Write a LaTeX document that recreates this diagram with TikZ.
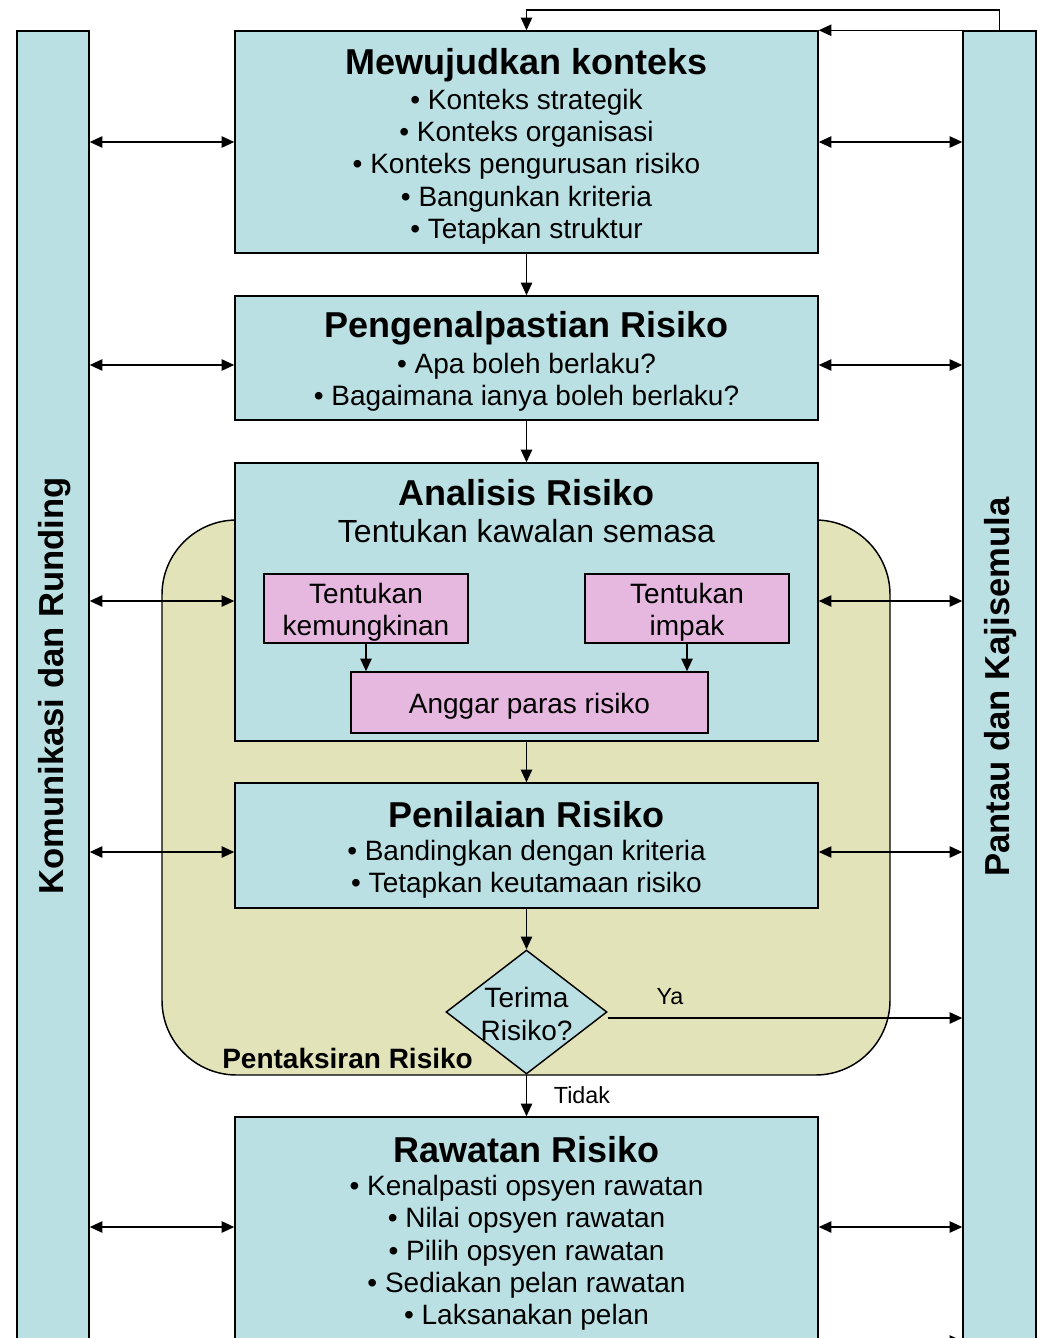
\documentclass[tikz,border=0pt]{standalone}
\usepackage{fontspec}
\setmainfont{Liberation Sans}
\usetikzlibrary{arrows.meta,shapes.geometric}

\definecolor{stepblue}{RGB}{187,224,227}
\definecolor{assessyellow}{RGB}{227,227,186}
\definecolor{subpink}{RGB}{230,183,223}

\tikzset{
  boxline/.style={draw=black,line width=1.1pt},
  sidebar/.style={boxline,fill=stepblue,rectangle,inner sep=0pt,minimum width=54pt,minimum height=996.75pt},
  stepbox/.style={boxline,fill=stepblue,rectangle,inner sep=0pt,minimum width=437.25pt},
  subbox/.style={boxline,fill=subpink,rectangle,inner sep=0pt,minimum width=153pt,minimum height=51.75pt},
  subtext/.style={align=center,font=\fontsize{21}{24}\selectfont,inner sep=0pt},
  decision/.style={boxline,fill=stepblue,diamond,inner sep=0pt,minimum width=120.75pt,minimum height=93pt},
  titletext/.style={font=\bfseries\fontsize{27}{30}\selectfont,inner sep=0pt},
  bodytext/.style={align=center,font=\fontsize{21}{24.2}\selectfont,inner sep=0pt},
  sidetext/.style={rotate=90,font=\bfseries\fontsize{26}{28}\selectfont,inner sep=0pt},
  smalltext/.style={font=\fontsize{17.5}{20}\selectfont,inner sep=0pt},
  conn/.style={line width=1.25pt,-{Triangle[length=9.5pt,width=8.5pt]}},
  twoway/.style={line width=1.25pt,{Triangle[length=9.5pt,width=8.5pt]}-{Triangle[length=9.5pt,width=8.5pt]}}
}

\begin{document}
\begin{tikzpicture}[x=0.75pt,y=-0.75pt]
\useasboundingbox (0,0) rectangle (1041,1338);

% assessment region behind the middle steps
\draw[boxline,fill=assessyellow,rounded corners=56pt] (162,520) rectangle (890,1075);
\node[font=\bfseries\fontsize{21}{24}\selectfont,inner sep=0pt,anchor=west] (assesslabel) at (222,1058) {Pentaksiran Risiko};

% side bars
\node[sidebar] (lbar) at (53,695.5) {};
\node[sidebar,minimum width=54.75pt] (rbar) at (999.5,695.5) {};
\node[sidetext] (ltext) at (55,686) {Komunikasi dan Runding};
\node[sidetext] (rtext) at (1001,687) {Pantau dan Kajisemula};

% main steps
\node[stepbox,minimum height=166.5pt] (b1) at (526.5,142) {};
\node[titletext] (b1t) at (526.5,65.5) {Mewujudkan konteks};
\node[bodytext] (b1b) at (526.5,166.5) {• Konteks strategik\\• Konteks organisasi\\• Konteks pengurusan risiko\\• Bangunkan kriteria\\• Tetapkan struktur};

\node[stepbox,minimum height=93pt] (b2) at (526.5,358) {};
\node[titletext] (b2t) at (526.5,328.5) {Pengenalpastian Risiko};
\node[bodytext] (b2b) at (526.5,382.5) {• Apa boleh berlaku?\\• Bagaimana ianya boleh berlaku?};

\node[stepbox,minimum height=208.5pt] (b3) at (526.5,602) {};
\node[titletext] (b3t) at (526.5,492.5) {Analisis Risiko};
\node[font=\fontsize{24}{27}\selectfont,inner sep=0pt] (b3s) at (526.5,531.5) {Tentukan kawalan semasa};

\node[subbox] (p1) at (366,608.5) {};
\node[subtext] (p1t) at (366,612.5) {Tentukan\\kemungkinan};
\node[subbox] (p2) at (687,608.5) {};
\node[subtext] (p2t) at (687,612.5) {Tentukan\\impak};
\node[subbox,minimum width=267.75pt,minimum height=45.75pt] (p3) at (529.5,702.5) {};
\node[subtext] (p3t) at (529.5,706.5) {Anggar paras risiko};

\node[stepbox,minimum height=93.75pt] (b4) at (526.5,845.5) {};
\node[titletext] (b4t) at (526.5,814.5) {Penilaian Risiko};
\node[bodytext] (b4b) at (526.5,869.5) {• Bandingkan dengan kriteria\\• Tetapkan keutamaan risiko};

\node[decision] (dia) at (526.5,1012) {};
\node[bodytext] (diat) at (526.5,1014) {Terima\\Risiko?};

\node[stepbox,minimum height=182.25pt] (b5) at (526.5,1238.5) {};
\node[titletext] (b5t) at (526.5,1149.5) {Rawatan Risiko};
\node[bodytext] (b5b) at (526.5,1253) {• Kenalpasti opsyen rawatan\\• Nilai opsyen rawatan\\• Pilih opsyen rawatan\\• Sediakan pelan rawatan\\• Laksanakan pelan};

% flow down the steps
\draw[conn] (b1.south) -- (b2.north);
\draw[conn] (b2.south) -- (b3.north);
\draw[conn] (p1.south) -- (p3.north -| p1.south);
\draw[conn] (p2.south) -- (p3.north -| p2.south);
\draw[conn] (b3.south) -- (b4.north);
\draw[conn] (b4.south) -- (dia.north);
\draw[conn] (dia.south) -- (b5.north);
\node[smalltext] (tidak) at (582,1095) {Tidak};

% accepted risk goes to monitoring
\coordinate (yya) at (0,1018);
\draw[conn] (dia.east |- yya) -- (rbar.west |- yya);
\node[smalltext] (ya) at (670,997) {Ya};

% two-way links with the side bars
\foreach \yy/\bx in {142/b1,365/b2,601/b3,852/b4,1227/b5}{
  \coordinate (lv) at (0,\yy);
  \draw[twoway] (lbar.east |- lv) -- (\bx.west |- lv);
  \draw[twoway] (\bx.east |- lv) -- (rbar.west |- lv);
}
\coordinate (yb) at (0,1341);
\draw[conn] (b5.east |- yb) -- (rbar.west |- yb);

% feedback loop from monitoring to the context step
\coordinate (loop) at (0,10);
\draw[conn,line width=1.1pt] (rbar.north) -- (rbar.north |- loop) -- (b1.north |- loop) -- (b1.north);
\draw[conn,line width=1.1pt] (rbar.north) -- (b1.north east);
\end{tikzpicture}
\end{document}
